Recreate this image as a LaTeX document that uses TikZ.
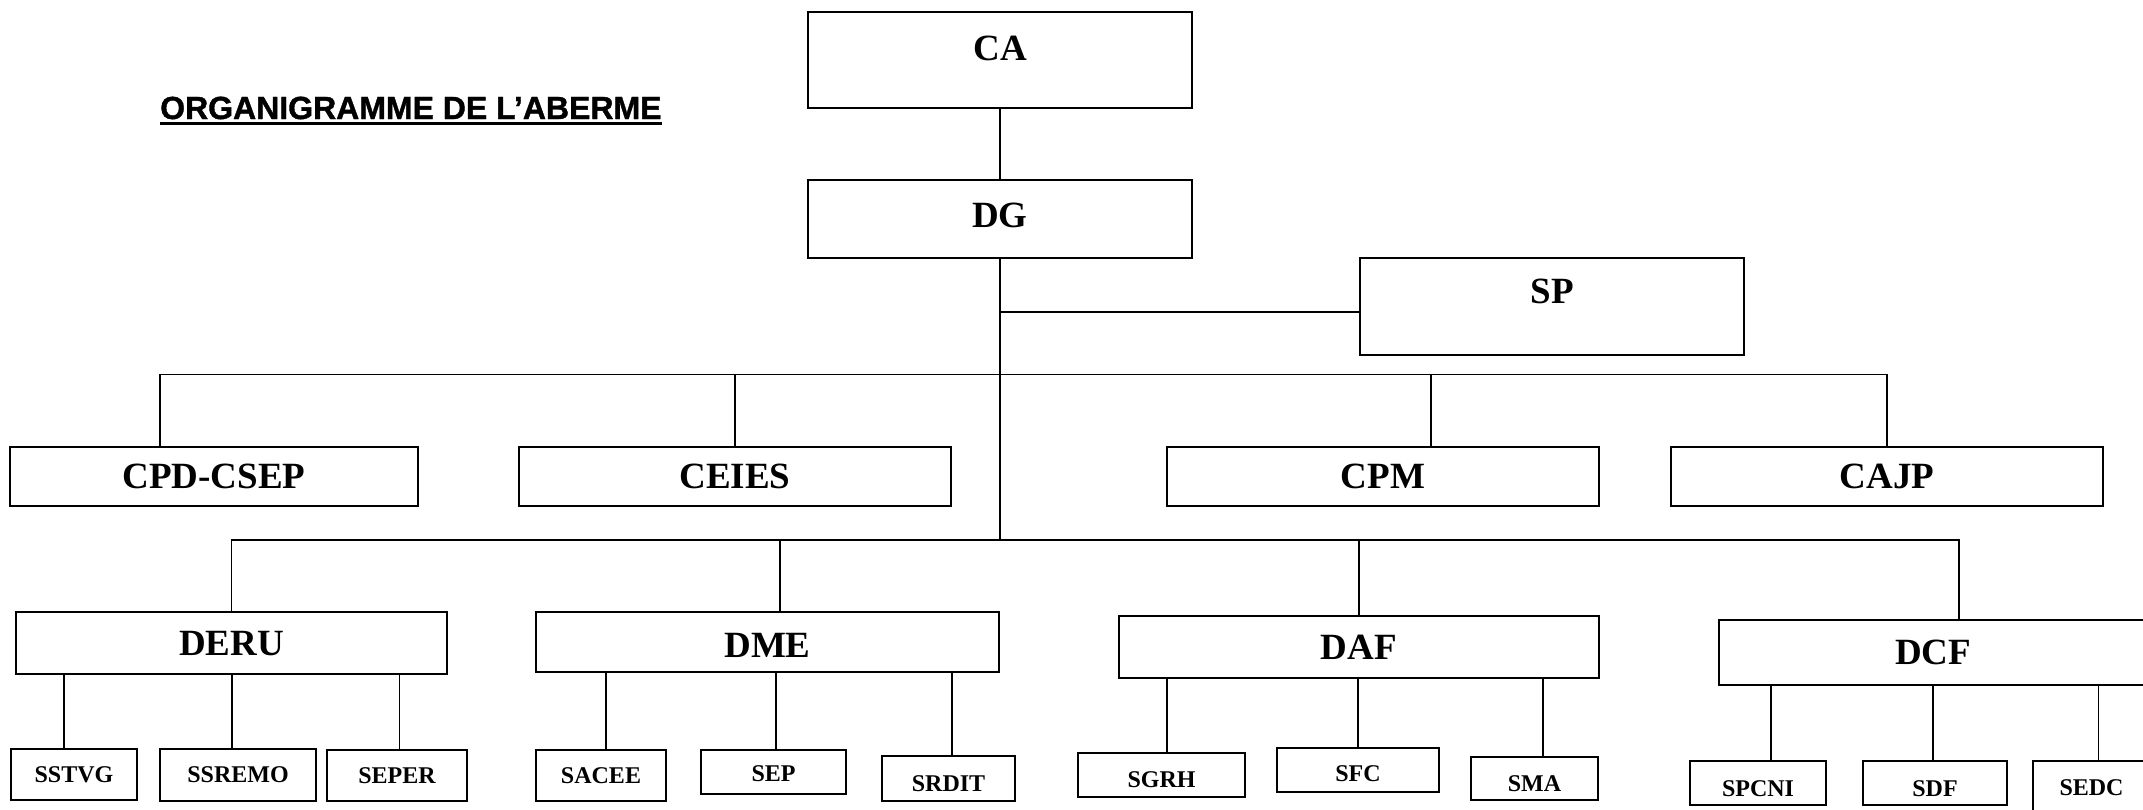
\documentclass[tikz,border=0pt]{standalone}
\usepackage{fontspec}
\setmainfont{Liberation Serif}
\newfontfamily\titlefont{Liberation Sans}[BoldFeatures={FakeBold=1.2}]

\begin{document}
\begin{tikzpicture}[x=1pt, y=-1pt,
    bigbox/.style={draw, line width=2.2pt, inner sep=2pt, text depth=0pt, font=\fontsize{37}{40}\selectfont\bfseries},
    smallbox/.style={draw, line width=2pt, inner sep=2pt, text depth=0pt, font=\fontsize{24}{26}\selectfont\bfseries},
    heading/.style={inner sep=0pt, font=\titlefont\fontsize{32}{34}\selectfont\bfseries},
    link/.style={line width=1.8pt}]

    \path[use as bounding box, clip] (0,0) rectangle (2143,809);

    \node[heading, anchor=base west] (title) at (160,119) {ORGANIGRAMME DE L’ABERME};
    \draw[line width=2.8pt] ([yshift=-4.5pt]title.base west) -- ([yshift=-4.5pt]title.base east);

    % top of the chart
    \node[bigbox, minimum width=384pt, minimum height=96pt, text depth=24pt] (ca) at (1000,60) {CA};
    \node[bigbox, minimum width=384pt, minimum height=78pt, text depth=8pt] (dg) at (1000,219) {DG};
    \node[bigbox, minimum width=384pt, minimum height=97pt, text depth=31pt] (sp) at (1552,306.5) {SP};

    \coordinate (bus1) at (1000,374.5);
    \coordinate (bus2) at (1000,540);

    % cells
    \node[bigbox, minimum width=408pt, minimum height=59pt] (cpd) at (214,476.5) {CPD-CSEP};
    \node[bigbox, minimum width=432pt, minimum height=59pt] (ceies) at (735,476.5) {CEIES};
    \node[bigbox, minimum width=432pt, minimum height=59pt] (cpm) at (1383,476.5) {CPM};
    \node[bigbox, minimum width=432pt, minimum height=59pt] (cajp) at (1887,476.5) {CAJP};

    % directions
    \node[bigbox, minimum width=431pt, minimum height=62pt] (deru) at (231.5,643) {DERU};
    \node[bigbox, minimum width=463pt, minimum height=60pt, text height=30pt] (dme) at (767.5,642) {DME};
    \node[bigbox, minimum width=480pt, minimum height=62pt] (daf) at (1359,647) {DAF};
    \node[bigbox, minimum width=428pt, minimum height=65pt] (dcf) at (1933,652.5) {DCF};

    % services
    \node[smallbox, minimum width=126pt, minimum height=51pt] (sstvg) at (74,774.5) {SSTVG};
    \node[smallbox, minimum width=156pt, minimum height=52pt] (ssremo) at (238,775) {SSREMO};
    \node[smallbox, minimum width=140pt, minimum height=51pt] (seper) at (397,775.5) {SEPER};
    \node[smallbox, minimum width=130pt, minimum height=51pt] (sacee) at (601,775.5) {SACEE};
    \node[smallbox, minimum width=145pt, minimum height=44pt, text height=19pt] (sep) at (773.5,772) {SEP};
    \node[smallbox, minimum width=133pt, minimum height=45pt, text height=25pt] (srdit) at (948.5,778.5) {SRDIT};
    \node[smallbox, minimum width=167pt, minimum height=44pt, text height=24pt] (sgrh) at (1161.5,775) {SGRH};
    \node[smallbox, minimum width=162pt, minimum height=44pt, text height=23pt] (sfc) at (1358,770) {SFC};
    \node[smallbox, minimum width=127pt, minimum height=43pt, text height=25pt] (sma) at (1534.5,778.5) {SMA};
    \node[smallbox, minimum width=136pt, minimum height=44pt, text height=27pt] (spcni) at (1758,783) {SPCNI};
    \node[smallbox, minimum width=144pt, minimum height=44pt, text height=27pt] (sdf) at (1935,783) {SDF};
    \node[smallbox, minimum width=117pt, minimum height=54pt] (sedc) at (2091.5,788) {SEDC};

    % links
    \draw[link] (ca) -- (dg);
    \draw[link] (dg.south) -- (bus2);
    \draw[link] ([yshift=-5.5pt]sp.west) -- ([yshift=-5.5pt]sp.west -| dg.south);

    \draw[link] ([xshift=-54pt]cpd.north) |- (cajp.north |- bus1) -- (cajp.north);
    \draw[link] (ceies.north) -- (ceies.north |- bus1);
    \draw[link] ([xshift=48pt]cpm.north) -- ([xshift=48pt]cpm.north |- bus1);

    \draw[link] (deru.north) |- ([xshift=26pt]dcf.north |- bus2) -- ([xshift=26pt]dcf.north);
    \draw[link] ([xshift=12.5pt]dme.north) -- ([xshift=12.5pt]dme.north |- bus2);
    \draw[link] (daf.north) -- (daf.north |- bus2);

    \draw[link] ([xshift=-10pt]sstvg.north) -- ([xshift=-10pt]sstvg.north |- deru.south);
    \draw[link] ([xshift=-6pt]ssremo.north) -- ([xshift=-6pt]ssremo.north |- deru.south);
    \draw[link] ([xshift=2.5pt]seper.north) -- ([xshift=2.5pt]seper.north |- deru.south);
    \draw[link] ([xshift=5pt]sacee.north) -- ([xshift=5pt]sacee.north |- dme.south);
    \draw[link] ([xshift=2.5pt]sep.north) -- ([xshift=2.5pt]sep.north |- dme.south);
    \draw[link] ([xshift=3.5pt]srdit.north) -- ([xshift=3.5pt]srdit.north |- dme.south);
    \draw[link] ([xshift=5.5pt]sgrh.north) -- ([xshift=5.5pt]sgrh.north |- daf.south);
    \draw[link] (sfc.north) -- (sfc.north |- daf.south);
    \draw[link] ([xshift=8.5pt]sma.north) -- ([xshift=8.5pt]sma.north |- daf.south);
    \draw[link] ([xshift=13pt]spcni.north) -- ([xshift=13pt]spcni.north |- dcf.south);
    \draw[link] ([xshift=-2pt]sdf.north) -- ([xshift=-2pt]sdf.north |- dcf.south);
    \draw[link] ([xshift=7pt]sedc.north) -- ([xshift=7pt]sedc.north |- dcf.south);
\end{tikzpicture}
\end{document}
